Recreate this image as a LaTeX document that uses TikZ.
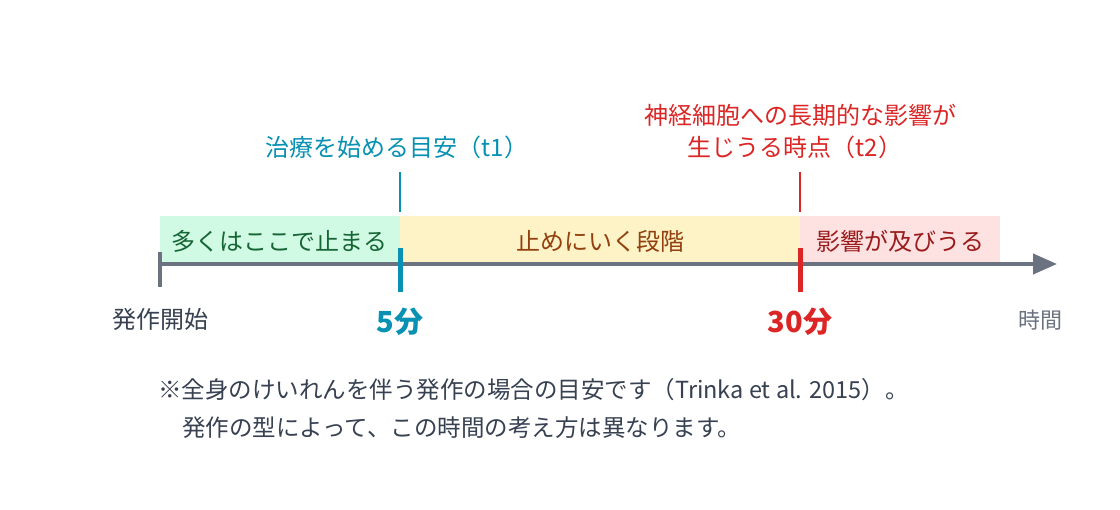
\documentclass[tikz,border=0pt]{standalone}
\usepackage{fontspec}
\setmainfont{Noto Sans CJK JP}
\usetikzlibrary{arrows.meta}
\definecolor{teal}{HTML}{0891B2}
\definecolor{redc}{HTML}{DC2626}
\definecolor{axisgray}{HTML}{6B7280}
\definecolor{darkgray}{HTML}{374151}
\definecolor{greenband}{HTML}{D1FAE5}
\definecolor{greentext}{HTML}{166534}
\definecolor{yellowband}{HTML}{FEF3C7}
\definecolor{browntext}{HTML}{92400E}
\definecolor{pinkband}{HTML}{FEE2E2}
\definecolor{darkred}{HTML}{991B1B}
\tikzset{
  lbl/.style={inner sep=0pt, font=\fontsize{24}{30}\selectfont},
  mark5/.style={inner sep=0pt, font=\fontsize{29}{32}\selectfont\bfseries},
  note/.style={inner sep=0pt, anchor=west, font=\fontsize{23.5}{28}\selectfont, text=darkgray},
}
\begin{document}
\begin{tikzpicture}[x=1pt,y=-1pt]
\useasboundingbox[fill=white] (0,0) rectangle (1120,510);
% bands
\fill[greenband] (160,216) rectangle (400,264);
\fill[yellowband] (400,216) rectangle (800,264);
\fill[pinkband] (800,216) rectangle (1000,264);
\node[lbl, text=greentext] (b1) at (279,241) {多くはここで止まる};
\node[lbl, text=browntext] (b2) at (600,241) {止めにいく段階};
\node[lbl, text=darkred] (b3) at (900,241) {影響が及びうる};
% axis
\coordinate (start) at (160,264);
\coordinate (tip) at (1057,264);
\draw[axisgray, line width=4pt, -{Triangle[length=24pt,width=20pt]}] (start) -- (tip);
\coordinate (s1) at (160,252);
\coordinate (s2) at (160,287);
\draw[axisgray, line width=3.5pt] (s1) -- (s2);
% t1
\coordinate (a1) at (400,172);
\coordinate (a2) at (400,212);
\coordinate (a3) at (400,248);
\coordinate (a4) at (400,292);
\draw[teal, line width=2pt] (a1) -- (a2);
\draw[teal, line width=5pt] (a3) -- (a4);
% t2
\coordinate (c1) at (800,172);
\coordinate (c2) at (800,212);
\coordinate (c3) at (800,248);
\coordinate (c4) at (800,292);
\draw[redc, line width=2pt] (c1) -- (c2);
\draw[redc, line width=5pt] (c3) -- (c4);
% labels
\node[lbl, text=teal] (t1) at (397,147) {治療を始める目安（t1）};
\node[lbl, text=redc] (t2a) at (800,115) {神経細胞への長期的な影響が};
\node[lbl, text=redc] (t2b) at (795,147) {生じうる時点（t2）};
\node[lbl, text=darkgray] (st) at (160,319) {発作開始};
\node[mark5, text=teal] (m5) at (400,322) {5分};
\node[mark5, text=redc] (m30) at (800,322) {30分};
\node[inner sep=0pt, font=\fontsize{22}{24}\selectfont, text=axisgray] (tm) at (1040,320) {時間};
% footnote
\node[note] (n1) at (158,390) {※全身のけいれんを伴う発作の場合の目安です（Trinka et al. 2015）。};
\node[note] (n2) at (182,428) {発作の型によって、この時間の考え方は異なります。};
\end{tikzpicture}
\end{document}
